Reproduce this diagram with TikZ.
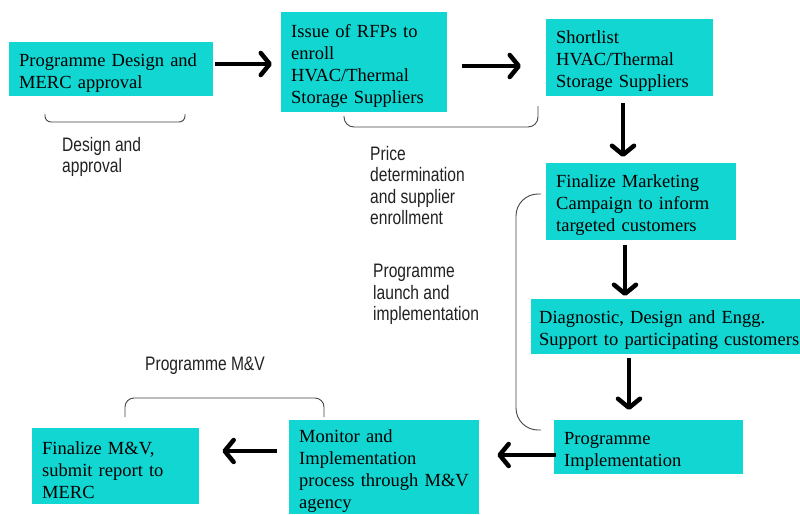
\documentclass[tikz,border=0pt]{standalone}
\usepackage{fontspec}
\usetikzlibrary{arrows.meta,calc}
\newfontfamily\boxfont{Liberation Serif}
\newfontfamily\lblfont[FakeStretch=0.8]{Liberation Sans}
\definecolor{cy}{RGB}{17,214,210}
\definecolor{lbl}{RGB}{34,34,34}
\definecolor{brk}{RGB}{70,70,70}
\begin{document}
\begin{tikzpicture}[x=1pt,y=-1pt,
  bx/.style={fill=cy, inner xsep=10pt, inner ysep=0pt, anchor=north west, align=left,
    font=\boxfont\fontsize{18.5}{22}\selectfont, text=black,
    execute at begin node={\rule{0pt}{20pt}}},
  lb/.style={anchor=north west, inner sep=0pt, align=left, text=lbl,
    font=\lblfont\fontsize{19.5}{21.5}\selectfont},
  arr/.style={line width=4.5pt, -{Straight Barb[length=9pt,width=22pt,round]}},
  brace/.style={draw=brk, line width=0.9pt}]
\fill[white] (0,0) rectangle (800,514);
\useasboundingbox (0,0) rectangle (800,514);
% boxes
\node[bx, text width=184pt, minimum height=54pt] (b1) at (9,42) {Programme Design and\\MERC approval};
\node[bx, text width=146pt, minimum height=100pt] (b2) at (281,12) {Issue of RFPs to\\enroll\\HVAC/Thermal\\Storage Suppliers};
\node[bx, text width=147pt, minimum height=77pt] (b3) at (546,19) {Shortlist\\HVAC/Thermal\\Storage Suppliers};
\node[bx, text width=170pt, minimum height=77pt] (b4) at (546,163) {Finalize Marketing\\Campaign to inform\\targeted customers};
\node[bx, inner xsep=8pt, text width=253pt, minimum height=55pt] (b5) at (531,299) {Diagnostic, Design and Engg.\\\mbox{Support to participating customers}};
\node[bx, text width=169pt, minimum height=54pt] (b6) at (554,420) {Programme\\Implementation};
\node[bx, text width=170pt, minimum height=94pt] (b7) at (289,420) {Monitor and\\Implementation\\process through M\&V\\agency};
\node[bx, text width=147pt, minimum height=76pt] (b8) at (32,428) {Finalize M\&V,\\submit report to\\MERC};
% labels
\node[lb] (l1) at (62,137) {Design and\\approval};
\node[lb] (l2) at (370,146) {Price\\determination\\and supplier\\enrollment};
\node[lb] (l3) at (373,264) {Programme\\launch and\\implementation};
\node[lb] (l4) at (145,357) {Programme M\&V};
% arrows
\draw[arr] ($(b1.east|-0,64)+(2,0)$) -- ($(b2.west|-0,64)+(-9,0)$);
\draw[arr] ($(b2.east|-0,66)+(15,0)$) -- ($(b3.west|-0,66)+(-25,0)$);
\draw[arr] ($(b3.south-|623,0)+(0,7)$) -- ($(b4.north-|623,0)+(0,-6)$);
\draw[arr] ($(b4.south-|625,0)+(0,5)$) -- ($(b5.north-|625,0)+(0,-3)$);
\draw[arr] ($(b5.south-|629,0)+(0,4)$) -- ($(b6.north-|629,0)+(0,-10)$);
\draw[arr] ($(b6.west|-0,455)+(2,0)$) -- ($(b7.east|-0,455)+(18,0)$);
\draw[arr] ($(b7.west|-0,451)+(-12,0)$) -- ($(b8.east|-0,451)+(23,0)$);
% brackets
\draw[brace, rounded corners=6pt] (45,114) -- (45,122) -- (185,122) -- (185,114);
\draw[brace, rounded corners=10pt] (344,116) -- (344,127) -- (538,127) -- (538,106);
\draw[brace, rounded corners=22pt] (541,194) -- (516,194) -- (516,430) -- (541,430);
\draw[brace, rounded corners=9pt] (125,417) -- (125,398) -- (324,398) -- (324,417);
\end{tikzpicture}
\end{document}
